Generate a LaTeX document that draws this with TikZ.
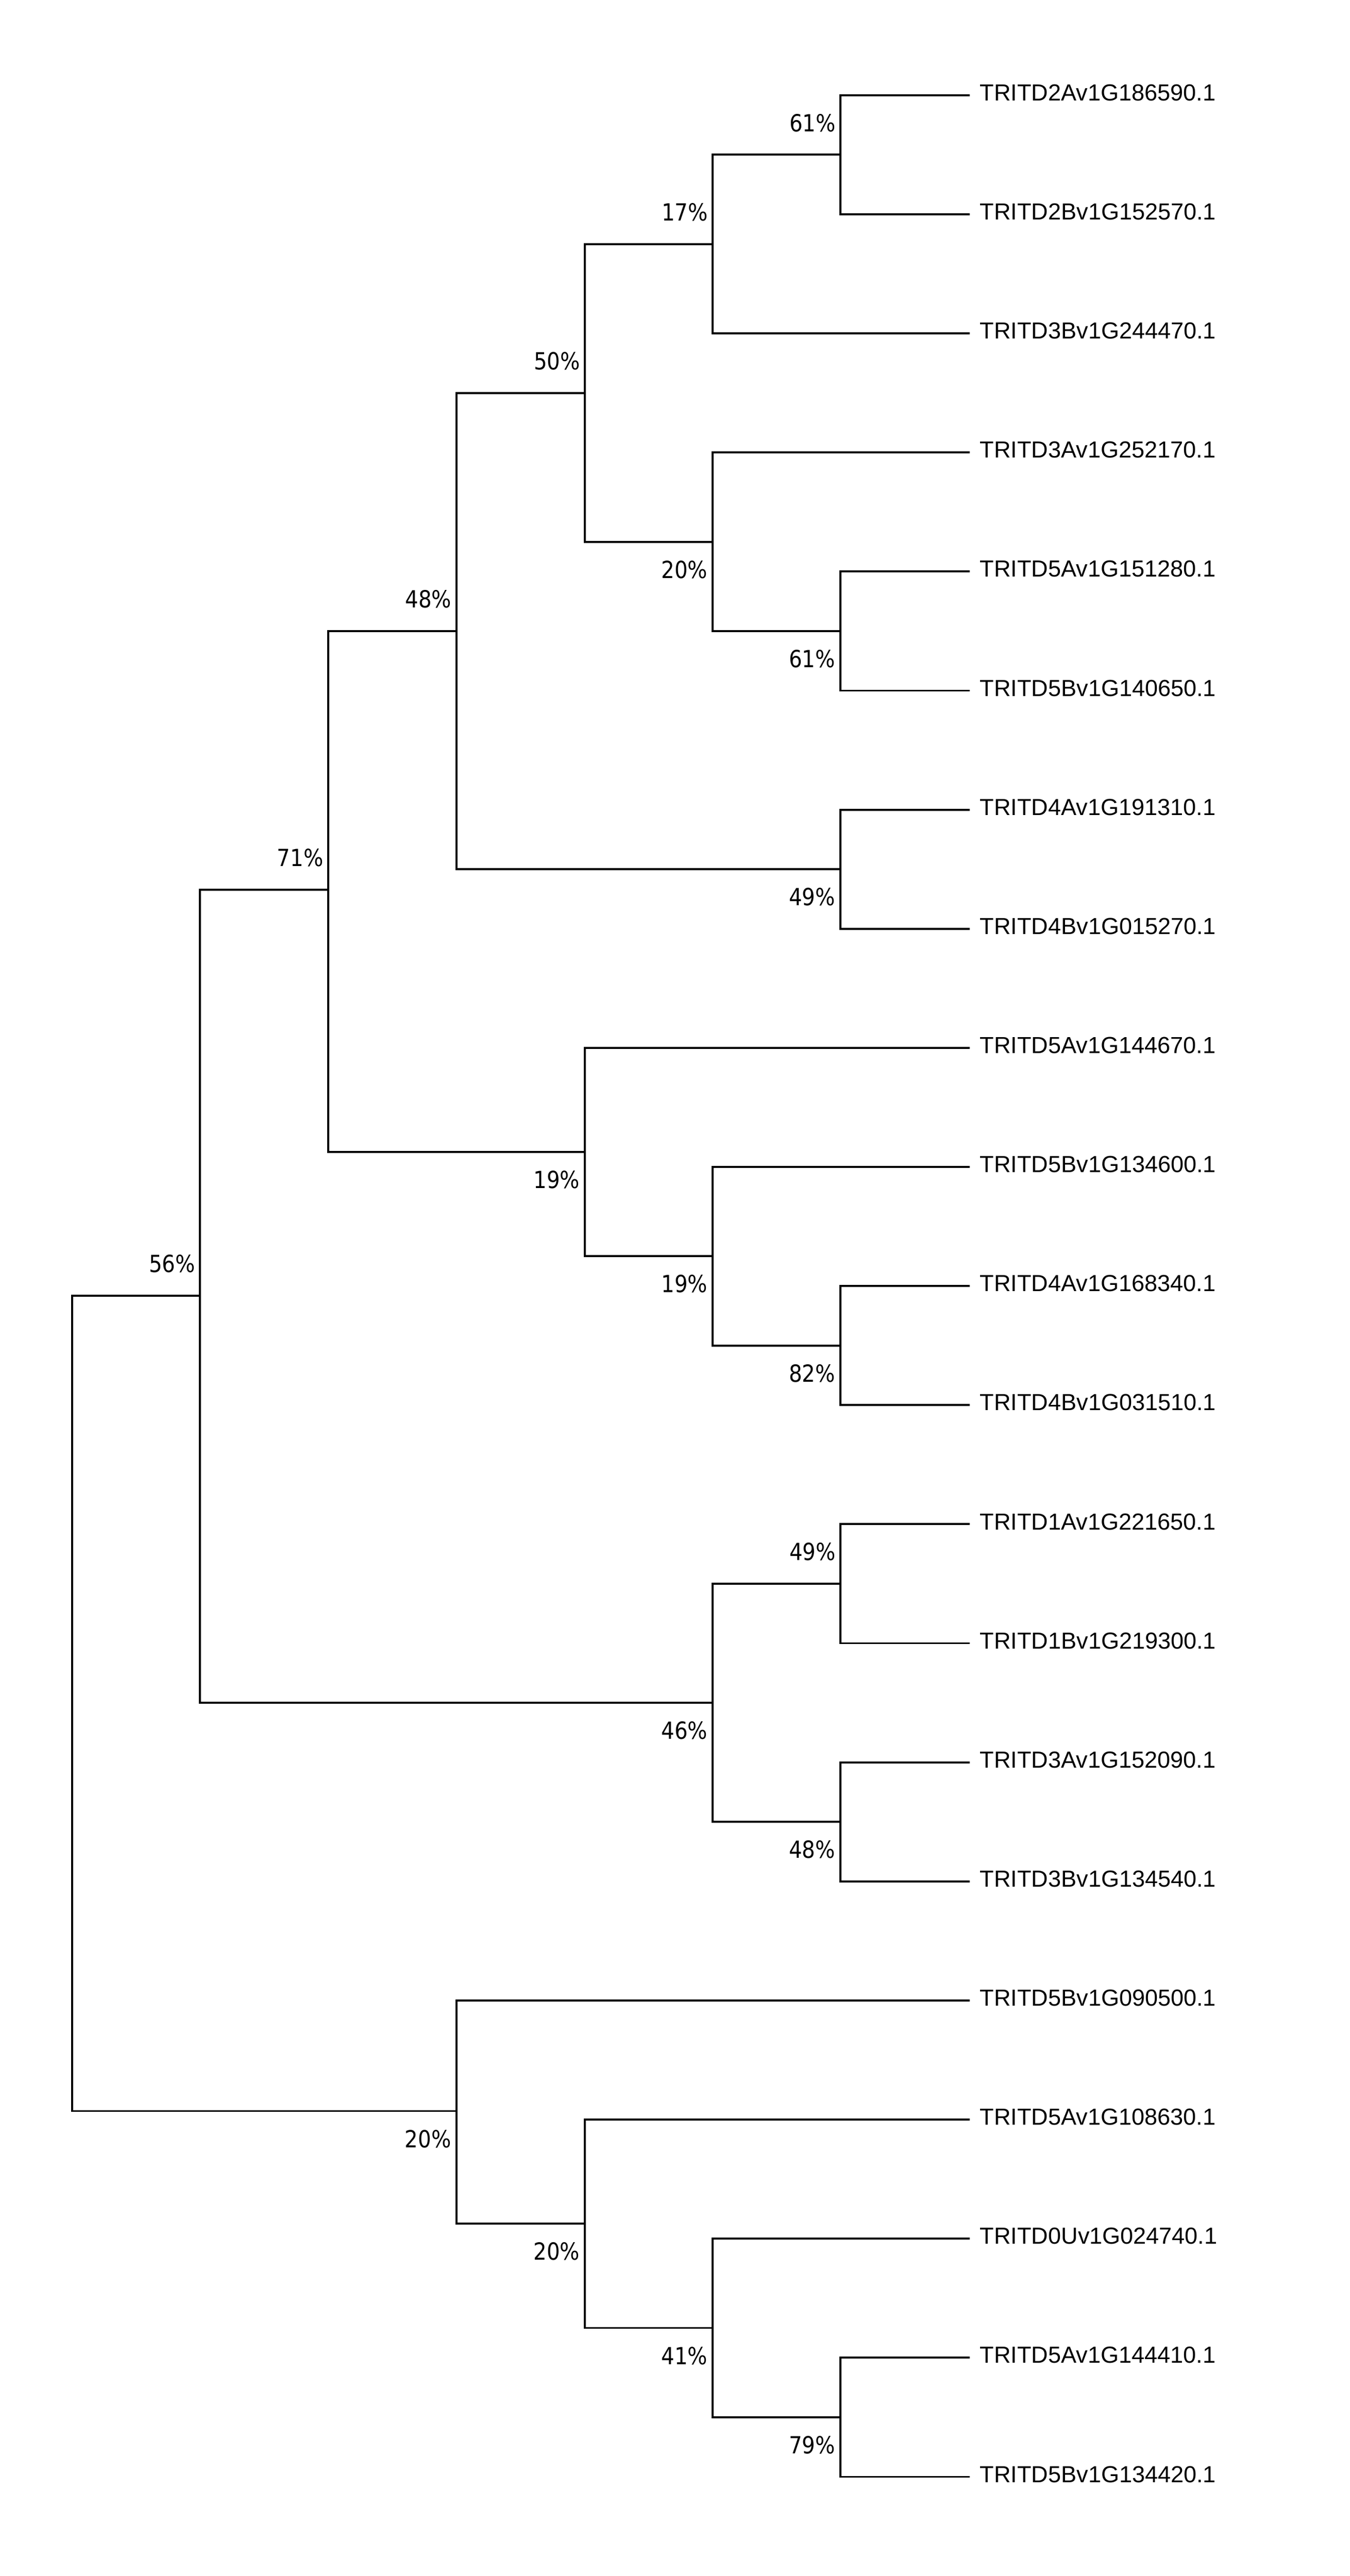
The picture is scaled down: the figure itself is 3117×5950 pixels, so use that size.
\documentclass[tikz,border=0pt]{standalone}
\usepackage{fontspec}
\setmainfont{Liberation Sans}
\newfontfamily\pctfont[FakeStretch=0.88]{DejaVu Sans}
\usetikzlibrary{calc}
\begin{document}
\begin{tikzpicture}[x=1pt,y=-1pt,
  branch/.style={line width=4.6pt, line join=miter, line cap=butt},
  leaflab/.style={anchor=base west, inner sep=0pt, font=\fontsize{53.6pt}{60pt}\selectfont},
  pct/.style={anchor=base east, inner sep=0pt, font=\pctfont\fontsize{54.5pt}{60pt}\selectfont},
  pctup/.style={pct},
  pctdown/.style={pct}]
\useasboundingbox (0,0) rectangle (3117,5950);
% leaves
\foreach \i/\name in {1/TRITD2Av1G186590.1, 2/TRITD2Bv1G152570.1, 3/TRITD3Bv1G244470.1,
  4/TRITD3Av1G252170.1, 5/TRITD5Av1G151280.1, 6/TRITD5Bv1G140650.1, 7/TRITD4Av1G191310.1,
  8/TRITD4Bv1G015270.1, 9/TRITD5Av1G144670.1, 10/TRITD5Bv1G134600.1, 11/TRITD4Av1G168340.1,
  12/TRITD4Bv1G031510.1, 13/TRITD1Av1G221650.1, 14/TRITD1Bv1G219300.1, 15/TRITD3Av1G152090.1,
  16/TRITD3Bv1G134540.1, 17/TRITD5Bv1G090500.1, 18/TRITD5Av1G108630.1, 19/TRITD0Uv1G024740.1,
  20/TRITD5Av1G144410.1, 21/TRITD5Bv1G134420.1}{
  \coordinate (l\i) at (2239, {220+(\i-1)*275.04});
  \node[leaflab] (t\i) at ($(l\i)+(24,12.6)$) {\name};
}
% internal nodes
\coordinate (T) at (1941, 357.5);
\coordinate (R) at (1646, 563.8);
\coordinate (U) at (1941, 1457.7);
\coordinate (S) at (1646, 1251.4);
\coordinate (P) at (1351, 907.6);
\coordinate (Q) at (1941, 2007.8);
\coordinate (J) at (1054, 1457.7);
\coordinate (N) at (1941, 3107.9);
\coordinate (M) at (1646, 2901.6);
\coordinate (K) at (1351, 2661.0);
\coordinate (F) at (758, 2055.0);
\coordinate (H) at (1941, 3658.0);
\coordinate (I) at (1941, 4208.1);
\coordinate (G) at (1646, 3933.0);
\coordinate (A) at (462, 2993.0);
\coordinate (E) at (1941, 5583.3);
\coordinate (D) at (1646, 5377.0);
\coordinate (C) at (1351, 5136.3);
\coordinate (B) at (1054, 4876.0);
\coordinate (root) at (167, 3934.5);
% branches
\draw[branch] (l1) -| (T) |- (l2);
\draw[branch] (T) -| (R) |- (l3);
\draw[branch] (l4) -| (S) |- (U);
\draw[branch] (l5) -| (U) |- (l6);
\draw[branch] (R) -| (P) |- (S);
\draw[branch] (l7) -| (Q) |- (l8);
\draw[branch] (P) -| (J) |- (Q);
\draw[branch] (l11) -| (N) |- (l12);
\draw[branch] (l10) -| (M) |- (N);
\draw[branch] (l9) -| (K) |- (M);
\draw[branch] (J) -| (F) |- (K);
\draw[branch] (l13) -| (H) |- (l14);
\draw[branch] (l15) -| (I) |- (l16);
\draw[branch] (H) -| (G) |- (I);
\draw[branch] (F) -| (A) |- (G);
\draw[branch] (l20) -| (E) |- (l21);
\draw[branch] (l19) -| (D) |- (E);
\draw[branch] (l18) -| (C) |- (D);
\draw[branch] (l17) -| (B) |- (C);
\draw[branch] (A) -| (root) |- (B);
% support values
\node[pctup] (pT) at ($(T)+(-11,-54)$) {61\%};
\node[pctup] (pR) at ($(R)+(-11,-54)$) {17\%};
\node[pctdown] (pU) at ($(U)+(-12,84)$) {61\%};
\node[pctdown] (pS) at ($(S)+(-12,84)$) {20\%};
\node[pctup] (pP) at ($(P)+(-11,-54)$) {50\%};
\node[pctdown] (pQ) at ($(Q)+(-12,84)$) {49\%};
\node[pctup] (pJ) at ($(J)+(-11,-54)$) {48\%};
\node[pctdown] (pN) at ($(N)+(-12,84)$) {82\%};
\node[pctdown] (pM) at ($(M)+(-12,84)$) {19\%};
\node[pctdown] (pK) at ($(K)+(-12,84)$) {19\%};
\node[pctup] (pF) at ($(F)+(-11,-54)$) {71\%};
\node[pctup] (pH) at ($(H)+(-11,-54)$) {49\%};
\node[pctdown] (pI) at ($(I)+(-12,84)$) {48\%};
\node[pctdown] (pG) at ($(G)+(-12,84)$) {46\%};
\node[pctup] (pA) at ($(A)+(-11,-54)$) {56\%};
\node[pctdown] (pE) at ($(E)+(-12,84)$) {79\%};
\node[pctdown] (pD) at ($(D)+(-12,84)$) {41\%};
\node[pctdown] (pC) at ($(C)+(-12,84)$) {20\%};
\node[pctdown] (pB) at ($(B)+(-12,84)$) {20\%};
\end{tikzpicture}
\end{document}
